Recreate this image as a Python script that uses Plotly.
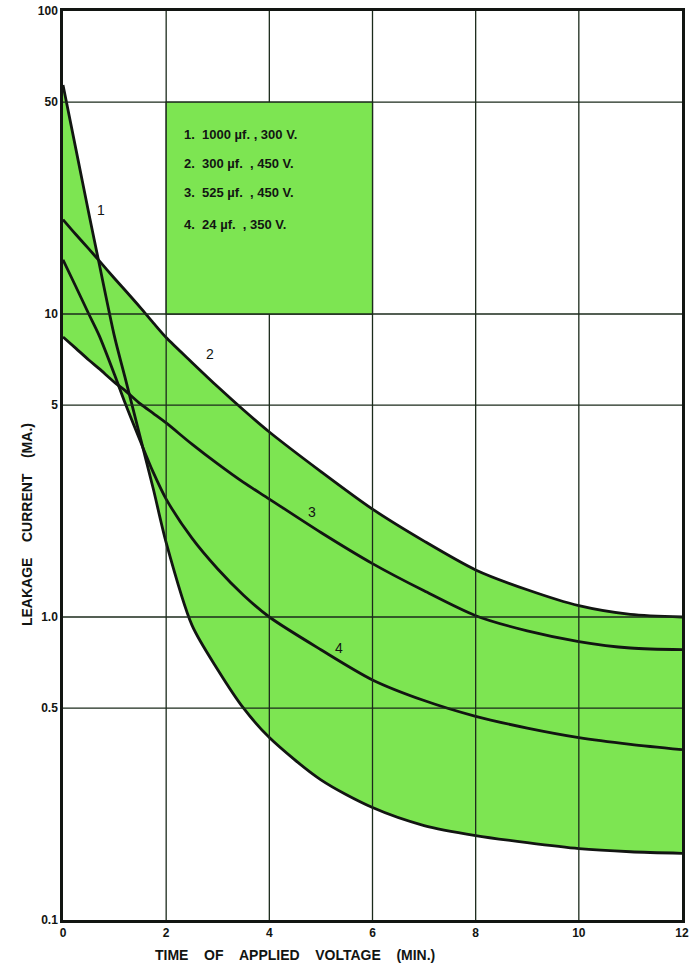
import numpy as np
import plotly.graph_objects as go

# ---- data ----
time_min = [0, 0.25, 0.5, 0.7, 1.0, 1.2, 1.5, 1.75, 2, 2.5, 3, 3.5, 4, 5, 6, 7, 8, 9, 10, 11, 12]
curve1 = [57, 35, 21.5, 14.7, 8.4, 6.2, 3.9, 2.65, 1.76, 0.94, 0.67, 0.50, 0.40, 0.29, 0.235, 0.205, 0.19, 0.18, 0.172, 0.168, 0.166]
curve2 = [20.5, 18.3, 16.4, 15.0, 13.1, 12.0, 10.5, 9.35, 8.36, 6.92, 5.75, 4.82, 4.08, 3.02, 2.27, 1.78, 1.43, 1.23, 1.09, 1.02, 1.0]
curve3 = [8.4, 7.7, 7.05, 6.6, 5.95, 5.6, 5.05, 4.7, 4.37, 3.72, 3.2, 2.78, 2.45, 1.9, 1.5, 1.22, 1.01, 0.9, 0.83, 0.79, 0.78]
curve4 = [15.1, 12.3, 10.0, 8.5, 6.3, 5.1, 3.8, 3.0, 2.45, 1.82, 1.44, 1.18, 1.0, 0.78, 0.62, 0.53, 0.47, 0.43, 0.40, 0.38, 0.365]

curve_labels = ["1", "2", "3", "4"]
label_x = [0.73, 2.85, 4.82, 5.35]
label_y = [22, 7.4, 2.22, 0.79]

legend_lines = ["1.  1000 µf. , 300 V.", "2.  300 µf.  , 450 V.", "3.  525 µf.  , 450 V.", "4.  24 µf.  , 350 V."]
legend_y = [39.1, 31.3, 25.1, 19.7]
legend_box_x = [2, 6]
legend_box_y = [10, 50]

x_ticks = [0, 2, 4, 6, 8, 10, 12]
y_ticks = [0.1, 0.5, 1, 5, 10, 50, 100]
y_ticktext = ["0.1", "0.5", "1.0", "5", "10", "50", "100"]

GREEN = "#7DE552"
INK = "#121512"
GRID = "#1b2a1b"
FONT = "Liberation Sans"

curves = [curve1, curve2, curve3, curve4]
upper = np.maximum.reduce([np.array(c) for c in curves])
lower = np.minimum.reduce([np.array(c) for c in curves])

fig = go.Figure()
# green envelope between all curves
fig.add_trace(go.Scatter(x=time_min, y=lower, mode="lines",
                         line=dict(width=0, shape="spline", smoothing=0.8),
                         hoverinfo="skip", showlegend=False))
fig.add_trace(go.Scatter(x=time_min, y=upper, mode="lines", fill="tonexty",
                         fillcolor=GREEN,
                         line=dict(width=0, shape="spline", smoothing=0.8),
                         hoverinfo="skip", showlegend=False))

for c in curves:
    fig.add_trace(go.Scatter(x=time_min, y=c, mode="lines",
                             line=dict(color=INK, width=2.8, shape="spline", smoothing=0.8),
                             showlegend=False))

# grid lines drawn above the green fill (derived from tick arrays)
for xv in x_ticks[1:-1]:
    fig.add_shape(type="line", xref="x", yref="paper", x0=xv, x1=xv, y0=0, y1=1,
                  line=dict(color=GRID, width=1.3), layer="above")
for yv in y_ticks[1:-1]:
    fig.add_shape(type="line", xref="paper", yref="y", x0=0, x1=1, y0=yv, y1=yv,
                  line=dict(color=GRID, width=1.3), layer="above")

# legend box
fig.add_shape(type="rect", xref="x", yref="y",
              x0=legend_box_x[0], x1=legend_box_x[1],
              y0=legend_box_y[0], y1=legend_box_y[1],
              fillcolor=GREEN, line=dict(color=GRID, width=1.3), layer="above")

for txt, yv in zip(legend_lines, legend_y):
    fig.add_annotation(x=2.3, y=np.log10(yv), xref="x", yref="y", text=txt,
                       showarrow=False, xanchor="left", yanchor="middle",
                       font=dict(family=FONT, size=13, color=INK, weight="bold"))

for t, xv, yv in zip(curve_labels, label_x, label_y):
    fig.add_annotation(x=xv, y=np.log10(yv), xref="x", yref="y", text=t,
                       showarrow=False, font=dict(family=FONT, size=14, color=INK))

# axis titles
fig.add_annotation(x=-0.059, y=0.435, xref="paper", yref="paper",
                   text="LEAKAGE\u00a0\u00a0\u00a0\u00a0CURRENT\u00a0\u00a0\u00a0\u00a0(MA.)",
                   textangle=-90, showarrow=False, xanchor="center", yanchor="middle",
                   font=dict(family=FONT, size=14, color=INK, weight="bold"))
fig.add_annotation(x=0.375, y=-0.038, xref="paper", yref="paper",
                   text="TIME\u00a0\u00a0\u00a0\u00a0OF\u00a0\u00a0\u00a0\u00a0APPLIED\u00a0\u00a0\u00a0\u00a0VOLTAGE\u00a0\u00a0\u00a0\u00a0(MIN.)",
                   showarrow=False, xanchor="center", yanchor="middle",
                   font=dict(family=FONT, size=14, color=INK, weight="bold"))

fig.update_xaxes(range=[0, 12], tickvals=x_ticks, showgrid=False, zeroline=False,
                 showline=True, mirror=True, linecolor=INK, linewidth=2.5,
                 ticks="", tickfont=dict(family=FONT, size=12, color=INK, weight="bold"))
fig.update_yaxes(type="log", range=[-1, 2], tickvals=y_ticks, ticktext=y_ticktext,
                 showgrid=False, zeroline=False,
                 showline=True, mirror=True, linecolor=INK, linewidth=2.5,
                 ticks="", tickfont=dict(family=FONT, size=12, color=INK, weight="bold"))

fig.update_layout(width=695, height=964,
                  margin=dict(l=63, r=13, t=4, b=44),
                  plot_bgcolor="white", paper_bgcolor="white",
                  showlegend=False)

fig.write_html("out.html", config={"displayModeBar": False},
               post_script="document.body.style.margin='0';document.body.style.overflow='hidden';")
